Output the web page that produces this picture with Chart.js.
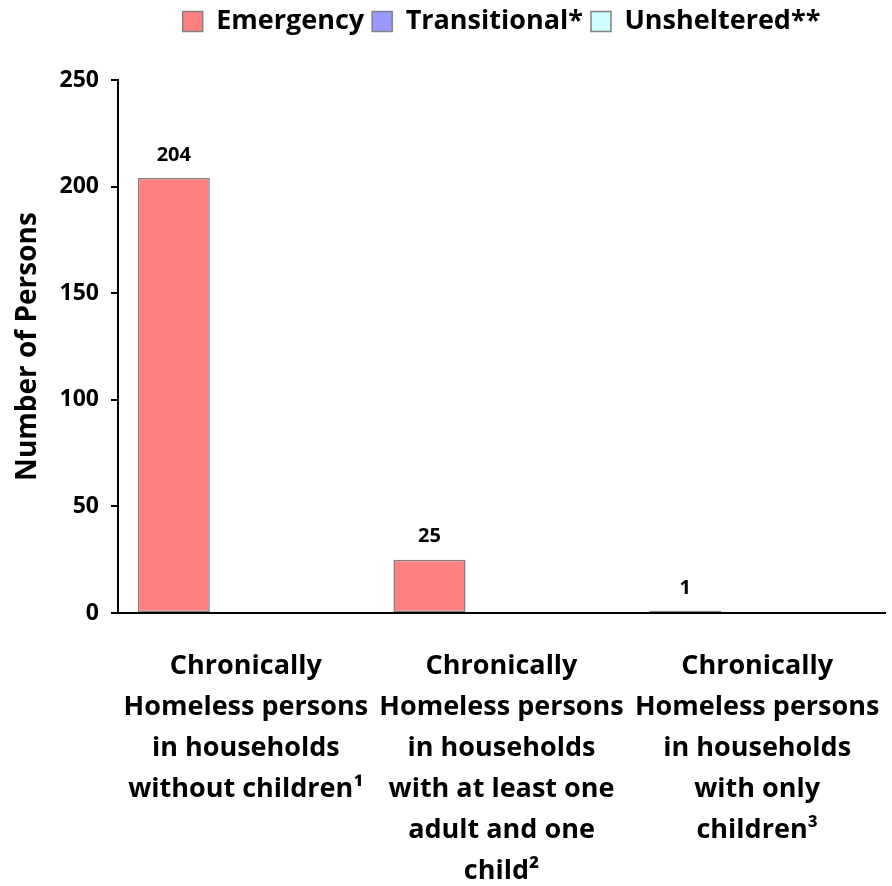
<!DOCTYPE html>
<html>
<head>
<meta charset="utf-8">
<script src="https://cdn.jsdelivr.net/npm/chart.js@4"></script>
<style>
  html, body { margin: 0; padding: 0; background: #fff; }
  #wrap { width: 892px; height: 886px; }
</style>
</head>
<body>
<div id="wrap"><canvas id="chart" width="892" height="886"></canvas></div>
<script>
// categories (multi-line labels as in the original)
const categories = [
  ['Chronically', 'Homeless persons', 'in households', 'without children\u00b9'],
  ['Chronically', 'Homeless persons', 'in households', 'with at least one', 'adult and one', 'child\u00b2'],
  ['Chronically', 'Homeless persons', 'in households', 'with only', 'children\u00b3']
];
const emergency = [204, 25, 1];
const transitional = [0, 0, 0];
const unsheltered = [0, 0, 0];
const yTicks = [0, 50, 100, 150, 200, 250];

const FONT = '"Open Sans", "Noto Sans", sans-serif';

// values above the bars (no datalabels plugin available)
const valueLabels = {
  id: 'valueLabels',
  afterDatasetsDraw(chart) {
    const ctx = chart.ctx;
    ctx.save();
    ctx.font = 'bold 20px ' + FONT;
    ctx.fillStyle = '#000';
    ctx.textAlign = 'center';
    ctx.textBaseline = 'middle';
    chart.data.datasets.forEach((ds, i) => {
      const meta = chart.getDatasetMeta(i);
      meta.data.forEach((bar, j) => {
        const v = ds.data[j];
        if (!v) return;
        ctx.fillText(String(v), bar.x, bar.y - 23);
      });
    });
    ctx.restore();
  }
};

// fix legend height so the plot starts at the right place
const legendHeight = {
  id: 'legendHeight',
  beforeInit(chart) {
    const fit = chart.legend.fit;
    chart.legend.fit = function () {
      fit.bind(chart.legend)();
      this.height = 80;
    };
  }
};

const ctx = document.getElementById('chart').getContext('2d');
new Chart(ctx, {
  type: 'bar',
  data: {
    labels: categories,
    datasets: [
      { label: 'Emergency', data: emergency, backgroundColor: '#FF8080', borderColor: '#808080', borderWidth: 1.5 },
      { label: 'Transitional*', data: transitional, backgroundColor: '#9999FF', borderColor: '#808080', borderWidth: 1.5 },
      { label: 'Unsheltered**', data: unsheltered, backgroundColor: '#CCFFFF', borderColor: '#808080', borderWidth: 1.5 }
    ]
  },
  options: {
    responsive: false,
    animation: false,
    layout: { padding: { left: 0, right: 7, top: 0, bottom: 0 } },
    datasets: { bar: { categoryPercentage: 0.845, barPercentage: 1.0, borderSkipped: false } },
    scales: {
      x: {
        grid: { display: false },
        border: { display: true, color: '#000', width: 2 },
        ticks: {
          color: '#000',
          font: { family: FONT, size: 27, weight: 'bold', lineHeight: 1.515 },
          padding: 25,
          maxRotation: 0,
          autoSkip: false
        },
        afterFit(scale) {
          scale.height = 273;
          // labels may overflow the edges, like in the original
          scale.paddingLeft = 0;
          scale.paddingRight = 0;
        }
      },
      y: {
        min: 0,
        max: 250,
        afterBuildTicks(scale) { scale.ticks = yTicks.map(v => ({ value: v })); },
        grid: { display: true, drawOnChartArea: false, drawTicks: true, tickLength: 7, color: '#000', lineWidth: 2 },
        border: { display: true, color: '#000', width: 2 },
        ticks: {
          color: '#000',
          font: { family: FONT, size: 23, weight: 'bold' },
          padding: 12
        },
        title: {
          display: true,
          text: 'Number of Persons',
          color: '#000',
          font: { family: FONT, size: 28, weight: 'bold' },
          padding: { top: 11, bottom: 0 }
        },
        afterFit(scale) { scale.width = 118; }
      }
    },
    plugins: {
      legend: {
        position: 'top',
        align: 'center',
        fullSize: false,
        labels: {
          color: '#000',
          font: { family: FONT, size: 27, weight: 'bold' },
          boxWidth: 20,
          boxHeight: 20,
          padding: 8
        }
      },
      tooltip: { enabled: false },
      title: { display: false }
    }
  },
  plugins: [valueLabels, legendHeight]
});
</script>
</body>
</html>
